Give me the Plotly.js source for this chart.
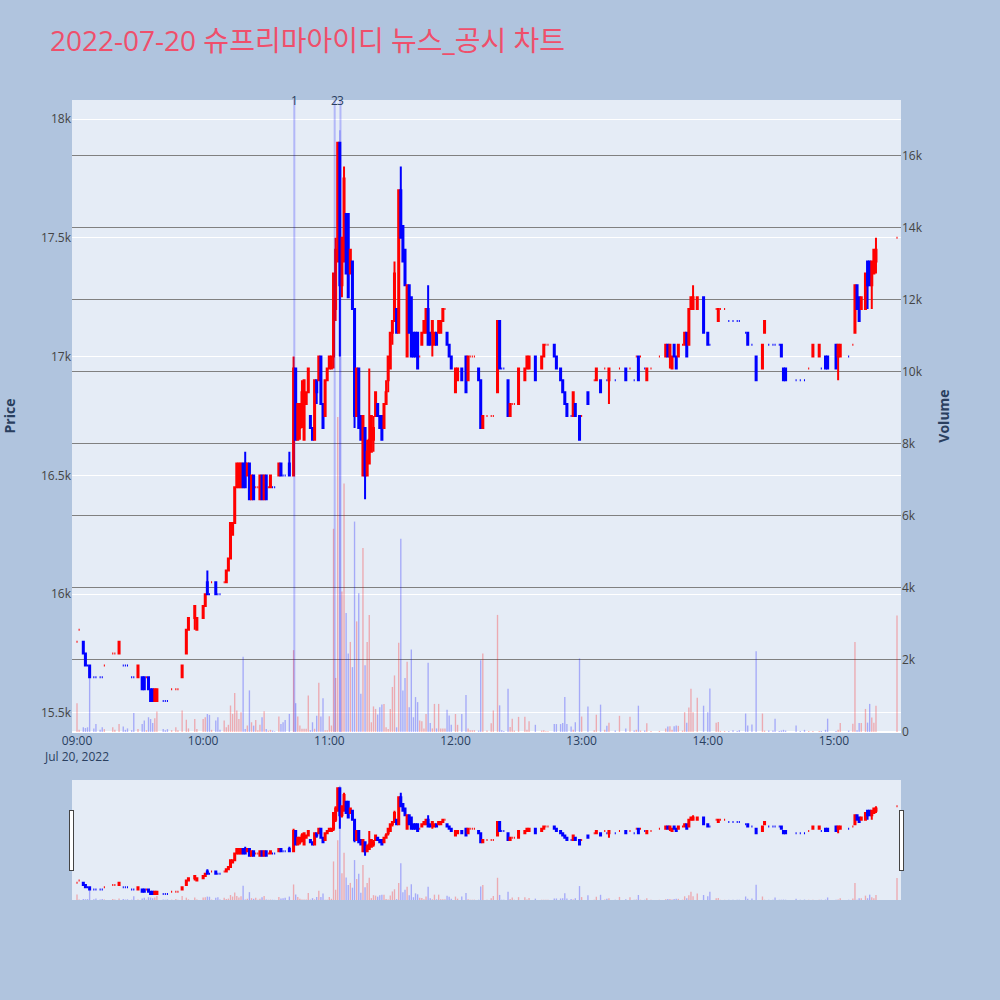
<!DOCTYPE html>
<html>
<head>
<meta charset="utf-8">
<script src="https://cdn.plot.ly/plotly-3.0.1.min.js"></script>
<style>html,body{margin:0;padding:0;background:#B0C4DE;}</style>
</head>
<body>
<div id="chart" style="width:1000px;height:1000px;"></div>
<script>
// ---- data (1-minute bars, 2022-07-20) ----
const day = '2022-07-20';
const times = [
 '09:00','09:01','09:03','09:04','09:05','09:06','09:08','09:09','09:11','09:12','09:13','09:17','09:18','09:20','09:22','09:23','09:24','09:26','09:27','09:29','09:31','09:32','09:33','09:34','09:35','09:36','09:37','09:38','09:41','09:42','09:43','09:45','09:47','09:48','09:50','09:52','09:53','09:56','09:57',
 '10:00','10:01','10:02','10:03','10:04','10:06','10:07','10:08','10:10','10:11','10:12','10:13','10:14','10:15','10:16','10:17','10:18','10:19','10:20','10:21','10:22','10:23','10:24','10:25','10:26','10:27','10:28','10:29','10:30','10:31','10:32','10:33','10:34','10:36','10:37','10:38','10:39','10:41','10:43','10:44','10:45','10:46','10:47','10:48','10:49','10:50','10:51','10:52','10:53','10:54','10:55','10:56','10:57','10:58','10:59',
 '11:00','11:01','11:02','11:03','11:04','11:05','11:06','11:07','11:08','11:09','11:10','11:11','11:12','11:13','11:14','11:15','11:16','11:17','11:18','11:19','11:20','11:21','11:22','11:23','11:24','11:25','11:26','11:27','11:28','11:29','11:30','11:31','11:32','11:33','11:34','11:35','11:36','11:37','11:38','11:39','11:40','11:41','11:42','11:43','11:44','11:45','11:46','11:47','11:48','11:49','11:50','11:51','11:52','11:53','11:54','11:55','11:56','11:57','11:58',
 '12:00','12:01','12:03','12:05','12:06','12:07','12:08','12:09','12:11','12:12','12:13','12:15','12:17','12:18','12:20','12:21','12:22','12:23','12:25','12:26','12:27','12:28','12:30','12:33','12:34','12:35','12:38','12:41','12:42','12:43','12:44','12:47','12:48','12:50','12:51','12:52','12:53','12:55','12:56','12:57','12:59',
 '13:00','13:03','13:06','13:07','13:09','13:11','13:12','13:13','13:16','13:18','13:21','13:23','13:25','13:26','13:27','13:28','13:30','13:31','13:33','13:37','13:40','13:41','13:42','13:43','13:44','13:45','13:46','13:48','13:49','13:50','13:51','13:52','13:53','13:55','13:58',
 '14:00','14:01','14:04','14:05','14:06','14:08','14:10','14:12','14:14','14:15','14:18','14:19','14:21','14:23','14:26','14:27','14:29','14:31','14:32','14:34','14:35','14:36','14:37','14:42','14:44','14:46','14:48','14:50','14:53','14:54','14:56','14:57',
 '15:01','15:02','15:03','15:07','15:09','15:10','15:11','15:12','15:13','15:15','15:16','15:17','15:18','15:19','15:20','15:30'
];
const opens = [
 15800,15850,15800,15750,15700,15700,15650,15650,15650,15650,15700,15750,15750,15750,15700,15700,15700,15650,15650,15650,15650,15650,15650,15650,15600,15600,15550,15550,15550,15550,15550,15600,15600,15600,15650,15750,15850,15900,15850,
 15900,15950,16050,16000,16050,16050,16000,16000,16050,16050,16100,16150,16250,16300,16450,16450,16450,16550,16550,16500,16550,16400,16500,16450,16450,16400,16500,16400,16500,16450,16450,16450,16450,16500,16550,16500,16500,16550,16500,16950,16650,16700,16750,16650,16800,16850,16750,16700,16650,16900,16900,17000,16800,16750,16900,
 16950,16950,17000,17200,17400,17900,17300,17400,17600,17600,17350,17400,17200,16750,16950,16750,16500,16700,16500,16550,16600,16650,16750,16800,16750,16750,16700,16800,16900,16950,17100,17150,17200,17100,17700,17550,17450,17000,17300,17250,17100,17100,17100,17000,17050,17100,17100,17200,17100,17100,17050,17100,17100,17100,17150,17200,17100,17050,17000,
 16850,16900,16950,17000,16900,17000,17000,17000,16950,16900,16700,16750,16750,16750,16850,17150,16950,16950,16900,16750,16800,16800,16800,16900,16950,16950,17000,16950,17000,17050,17050,17050,17000,16950,16900,16850,16800,16750,16750,16800,16750,
 16750,16850,16900,16900,16900,16950,16900,16900,16900,16950,16950,16950,16900,17000,17000,17000,16950,16900,16950,17000,17000,17050,17000,16950,17050,17000,17000,17050,17050,17100,17050,17200,17200,17200,17250,
 17100,17050,17200,17150,17200,17200,17150,17150,17150,17150,17100,17100,17050,17000,16950,17100,17050,17050,17050,17050,17050,16950,16950,16900,16900,16900,16950,17000,17000,16950,17000,17000,
 17050,17000,17000,17000,17050,17100,17300,17250,17200,17200,17400,17400,17300,17350,17400,17500
];
const highs = [
 15800,15850,15800,15750,15700,15700,15650,15650,15650,15650,15700,15750,15750,15800,15700,15700,15700,15650,15650,15700,15650,15650,15650,15650,15600,15600,15600,15600,15550,15550,15550,15600,15600,15600,15700,15850,15900,15950,15900,
 15950,16000,16100,16000,16050,16050,16000,16000,16050,16100,16150,16300,16300,16450,16550,16550,16550,16550,16600,16550,16550,16500,16500,16450,16450,16500,16500,16500,16500,16450,16500,16450,16450,16550,16550,16500,16500,16600,17000,16950,16800,16800,16900,16900,16850,16950,16750,16700,16900,16900,17000,17000,16800,16900,16950,
 17000,17000,17350,17500,17900,17900,17500,17800,17600,17600,17450,17400,17200,16950,16950,16750,16750,16700,16650,16950,16750,16750,16850,16800,16750,16750,16800,16900,17000,17100,17150,17400,17200,17700,17800,17550,17450,17300,17300,17250,17100,17100,17100,17000,17100,17150,17200,17300,17100,17150,17100,17100,17150,17150,17200,17200,17100,17050,17000,
 16950,16950,16950,17000,17000,17000,17000,17000,16950,16900,16750,16750,16750,16750,17150,17150,16950,16950,16900,16800,16800,16800,16950,16950,17000,17000,17000,17000,17050,17050,17050,17050,17000,16950,16900,16850,16800,16750,16850,16800,16750,
 16750,16850,16900,16950,16900,16950,16900,16950,16900,16950,16950,16950,16900,17000,17000,17000,16950,16950,16950,17000,17050,17050,17050,17000,17050,17000,17050,17050,17100,17100,17200,17250,17300,17250,17250,
 17100,17050,17200,17200,17200,17200,17150,17150,17150,17150,17100,17100,17050,17000,17050,17150,17050,17050,17050,17050,17050,16950,16950,16900,16900,16900,16950,17050,17050,16950,17000,17000,
 17050,17050,17050,17000,17050,17300,17300,17250,17250,17350,17400,17400,17400,17450,17500,17500
];
const lows = [
 15800,15850,15750,15700,15700,15650,15650,15650,15650,15650,15700,15750,15750,15750,15700,15700,15700,15650,15650,15650,15600,15600,15650,15600,15550,15550,15550,15550,15550,15550,15550,15600,15600,15600,15650,15750,15850,15850,15850,
 15900,15950,16000,16000,16050,16000,16000,16000,16050,16050,16100,16150,16250,16300,16450,16450,16450,16450,16450,16500,16400,16400,16400,16450,16450,16400,16400,16400,16400,16450,16450,16450,16450,16500,16500,16500,16500,16500,16500,16650,16650,16650,16700,16650,16800,16850,16700,16650,16650,16800,16900,16800,16700,16750,16900,
 16950,16950,16950,17150,17400,17000,17250,17400,17350,17250,17350,17200,16700,16750,16700,16650,16500,16400,16500,16550,16600,16600,16750,16750,16700,16650,16700,16800,16850,16950,17050,17150,17100,17100,17500,17400,17300,17000,17100,17000,17000,17000,16950,17000,17050,17100,17100,17050,17050,17000,17050,17050,17100,17100,17150,17200,17050,17000,16950,
 16850,16900,16900,16850,16900,17000,17000,17000,16900,16700,16700,16750,16750,16750,16850,16950,16950,16950,16750,16750,16800,16800,16800,16900,16950,16950,16900,16950,17000,17050,17050,17000,16950,16900,16850,16800,16750,16750,16750,16750,16650,
 16750,16800,16900,16900,16850,16950,16900,16800,16900,16950,16900,16950,16900,17000,16900,17000,16950,16900,16950,17000,17000,17000,16950,16950,17000,16950,17000,17050,17050,17000,17050,17200,17200,17200,17100,
 17050,17050,17200,17150,17200,17200,17150,17150,17150,17150,17100,17050,17050,16900,16950,17100,17050,17050,17050,17050,17000,16900,16900,16900,16900,16900,16950,17000,17000,16950,16950,16950,
 16950,16900,17000,17000,17050,17100,17200,17150,17200,17200,17200,17300,17200,17350,17350,17500
];
const closes = [
 15800,15850,15750,15700,15700,15650,15650,15650,15650,15650,15700,15750,15750,15800,15700,15700,15700,15650,15650,15700,15600,15600,15650,15600,15550,15550,15600,15600,15550,15550,15550,15600,15600,15600,15700,15850,15900,15950,15900,
 15950,16000,16000,16000,16050,16000,16000,16000,16050,16100,16150,16300,16300,16450,16550,16550,16550,16450,16450,16550,16400,16500,16400,16450,16450,16500,16400,16500,16400,16450,16500,16450,16450,16550,16500,16500,16500,16500,16950,16650,16800,16800,16850,16900,16850,16950,16700,16650,16900,16850,17000,16800,16700,16900,16950,
 17000,17000,17350,17450,17900,17300,17500,17750,17350,17250,17450,17200,16750,16950,16700,16650,16750,16500,16600,16650,16750,16700,16850,16750,16700,16650,16800,16850,17000,17100,17150,17350,17100,17700,17500,17400,17300,17300,17100,17000,17000,17000,16950,17000,17100,17150,17200,17050,17050,17150,17100,17050,17150,17150,17200,17200,17050,17000,16950,
 16950,16950,16900,16850,17000,17000,17000,17000,16900,16700,16750,16750,16750,16750,17150,16950,16950,16950,16750,16800,16800,16800,16950,16950,17000,17000,16900,17000,17050,17050,17050,17000,16950,16900,16850,16800,16750,16750,16850,16750,16650,
 16750,16800,16900,16950,16850,16950,16900,16950,16900,16950,16900,16950,16900,17000,16900,17000,16950,16950,16950,17000,17050,17000,17050,17000,17000,16950,17050,17050,17100,17000,17200,17250,17250,17250,17100,
 17050,17050,17200,17200,17200,17200,17150,17150,17150,17150,17100,17050,17050,16900,17050,17150,17050,17050,17050,17050,17000,16900,16900,16900,16900,16900,16950,17050,17050,16950,16950,16950,
 16950,17050,17050,17000,17050,17300,17200,17150,17250,17350,17300,17300,17400,17450,17450,17500
];
const volumes = [
 800,60,130,110,130,1750,100,220,60,130,80,130,60,220,150,60,100,50,530,80,220,316,50,410,360,250,380,570,80,50,80,50,130,50,600,340,100,360,80,
 360,410,500,475,60,316,410,60,316,130,200,735,503,1080,596,363,550,2085,84,177,1155,270,177,335,50,200,410,577,84,37,60,40,19,428,223,270,335,503,2272,800,430,180,90,90,90,1014,50,270,90,450,1370,430,940,50,50,
 440,180,5640,1500,8740,16700,3900,6900,3300,2180,2500,1800,5840,3070,3850,1060,5110,1850,2500,3250,270,710,640,485,690,765,780,130,85,640,1250,1570,130,2480,5360,1150,1500,1950,690,2290,410,970,830,316,300,100,500,1920,250,100,780,100,780,100,100,100,615,460,200,
 500,200,500,1030,100,50,50,50,40,1990,2180,40,240,600,3250,740,50,30,1200,140,370,40,420,420,60,300,200,40,50,20,20,220,220,220,250,970,220,150,60,270,2040,
 430,710,50,480,760,60,170,260,40,450,100,420,40,60,730,40,40,240,30,30,100,150,160,60,160,180,170,40,550,260,680,1200,550,950,730,
 550,1210,260,280,30,30,30,50,30,50,513,180,210,2240,513,40,40,40,370,30,40,60,40,180,30,60,30,30,30,30,60,370,
 30,60,250,40,230,2500,50,250,250,640,260,780,400,260,730,3230
];
const newsTimes = ['10:43:21','11:02:33','11:05:18'];
const newsLabels = ['1','2','3'];

// ---- build ----
const x = times.map(t => day + ' ' + t + ':00');
// volume colour follows the candle direction rule (equal open/close -> compare with previous close)
let inc = true, prevC = null;
const volColors = closes.map((c, i) => {
  const o = opens[i];
  if (c === o) { if (prevC !== null && c !== prevC) inc = c > prevC; }
  else inc = c > o;
  prevC = c;
  return inc ? 'red' : 'blue';
});

const candle = {
  type: 'candlestick', x: x, open: opens, high: highs, low: lows, close: closes,
  xaxis: 'x', yaxis: 'y',
  increasing: {line: {color: 'red', width: 2}, fillcolor: 'red'},
  decreasing: {line: {color: 'blue', width: 2}, fillcolor: 'blue'},
  name: 'Price', showlegend: false
};
const vol = {
  type: 'bar', x: x, y: volumes, xaxis: 'x', yaxis: 'y2',
  marker: {color: volColors, opacity: 0.28}, name: 'Volume', showlegend: false
};

const xr = [day + ' 08:57:37', day + ' 15:31:54'];
const shapes = newsTimes.map(t => ({
  type: 'line', xref: 'x', yref: 'paper', x0: day + ' ' + t, x1: day + ' ' + t, y0: 0, y1: 1,
  line: {color: 'blue', width: 2}, opacity: 0.22
}));
const annotations = newsTimes.map((t, i) => ({
  xref: 'x', yref: 'paper', x: day + ' ' + t, y: 1, yanchor: 'middle', xanchor: 'center',
  text: newsLabels[i], showarrow: false, font: {size: 12, color: '#2a3f5f'}
}));

const layout = {
  width: 1000, height: 1000,
  paper_bgcolor: '#B0C4DE', plot_bgcolor: '#E5ECF6',
  font: {family: '"Open Sans", "Noto Sans CJK KR", verdana, arial, sans-serif', color: '#2a3f5f', size: 12},
  margin: {l: 72, r: 99, t: 100, b: 100},
  title: {text: '2022-07-20 슈프리마아이디 뉴스_공시 차트', x: 0.05, xanchor: 'left', y: 0.959, yanchor: 'middle',
          font: {size: 28, color: '#EF4F6B', family: '"Open Sans", "Noto Sans CJK KR", sans-serif'}},
  showlegend: false,
  bargap: 0.35,
  xaxis: {type: 'date', range: xr, showgrid: false, ticks: '',
          rangeslider: {visible: true, thickness: 0.15, bgcolor: '#E5ECF6', range: xr}},
  yaxis: {title: {text: '<b>Price</b>', font: {size: 14}, standoff: 24}, range: [15419.5, 18080.5], gridcolor: 'white', zeroline: false,
          tickfont: {color: '#444'}},
  yaxis2: {title: {text: '<b>Volume</b>', font: {size: 14}, standoff: 17}, overlaying: 'y', side: 'right', range: [0, 17540],
           showgrid: true, gridcolor: 'gray', gridwidth: 1, zeroline: true, zerolinecolor: 'white', zerolinewidth: 2,
           tickfont: {color: '#444'}},
  shapes: shapes,
  annotations: annotations
};

Plotly.newPlot('chart', [candle, vol], layout, {displayModeBar: false, staticPlot: true});
</script>
</body>
</html>
